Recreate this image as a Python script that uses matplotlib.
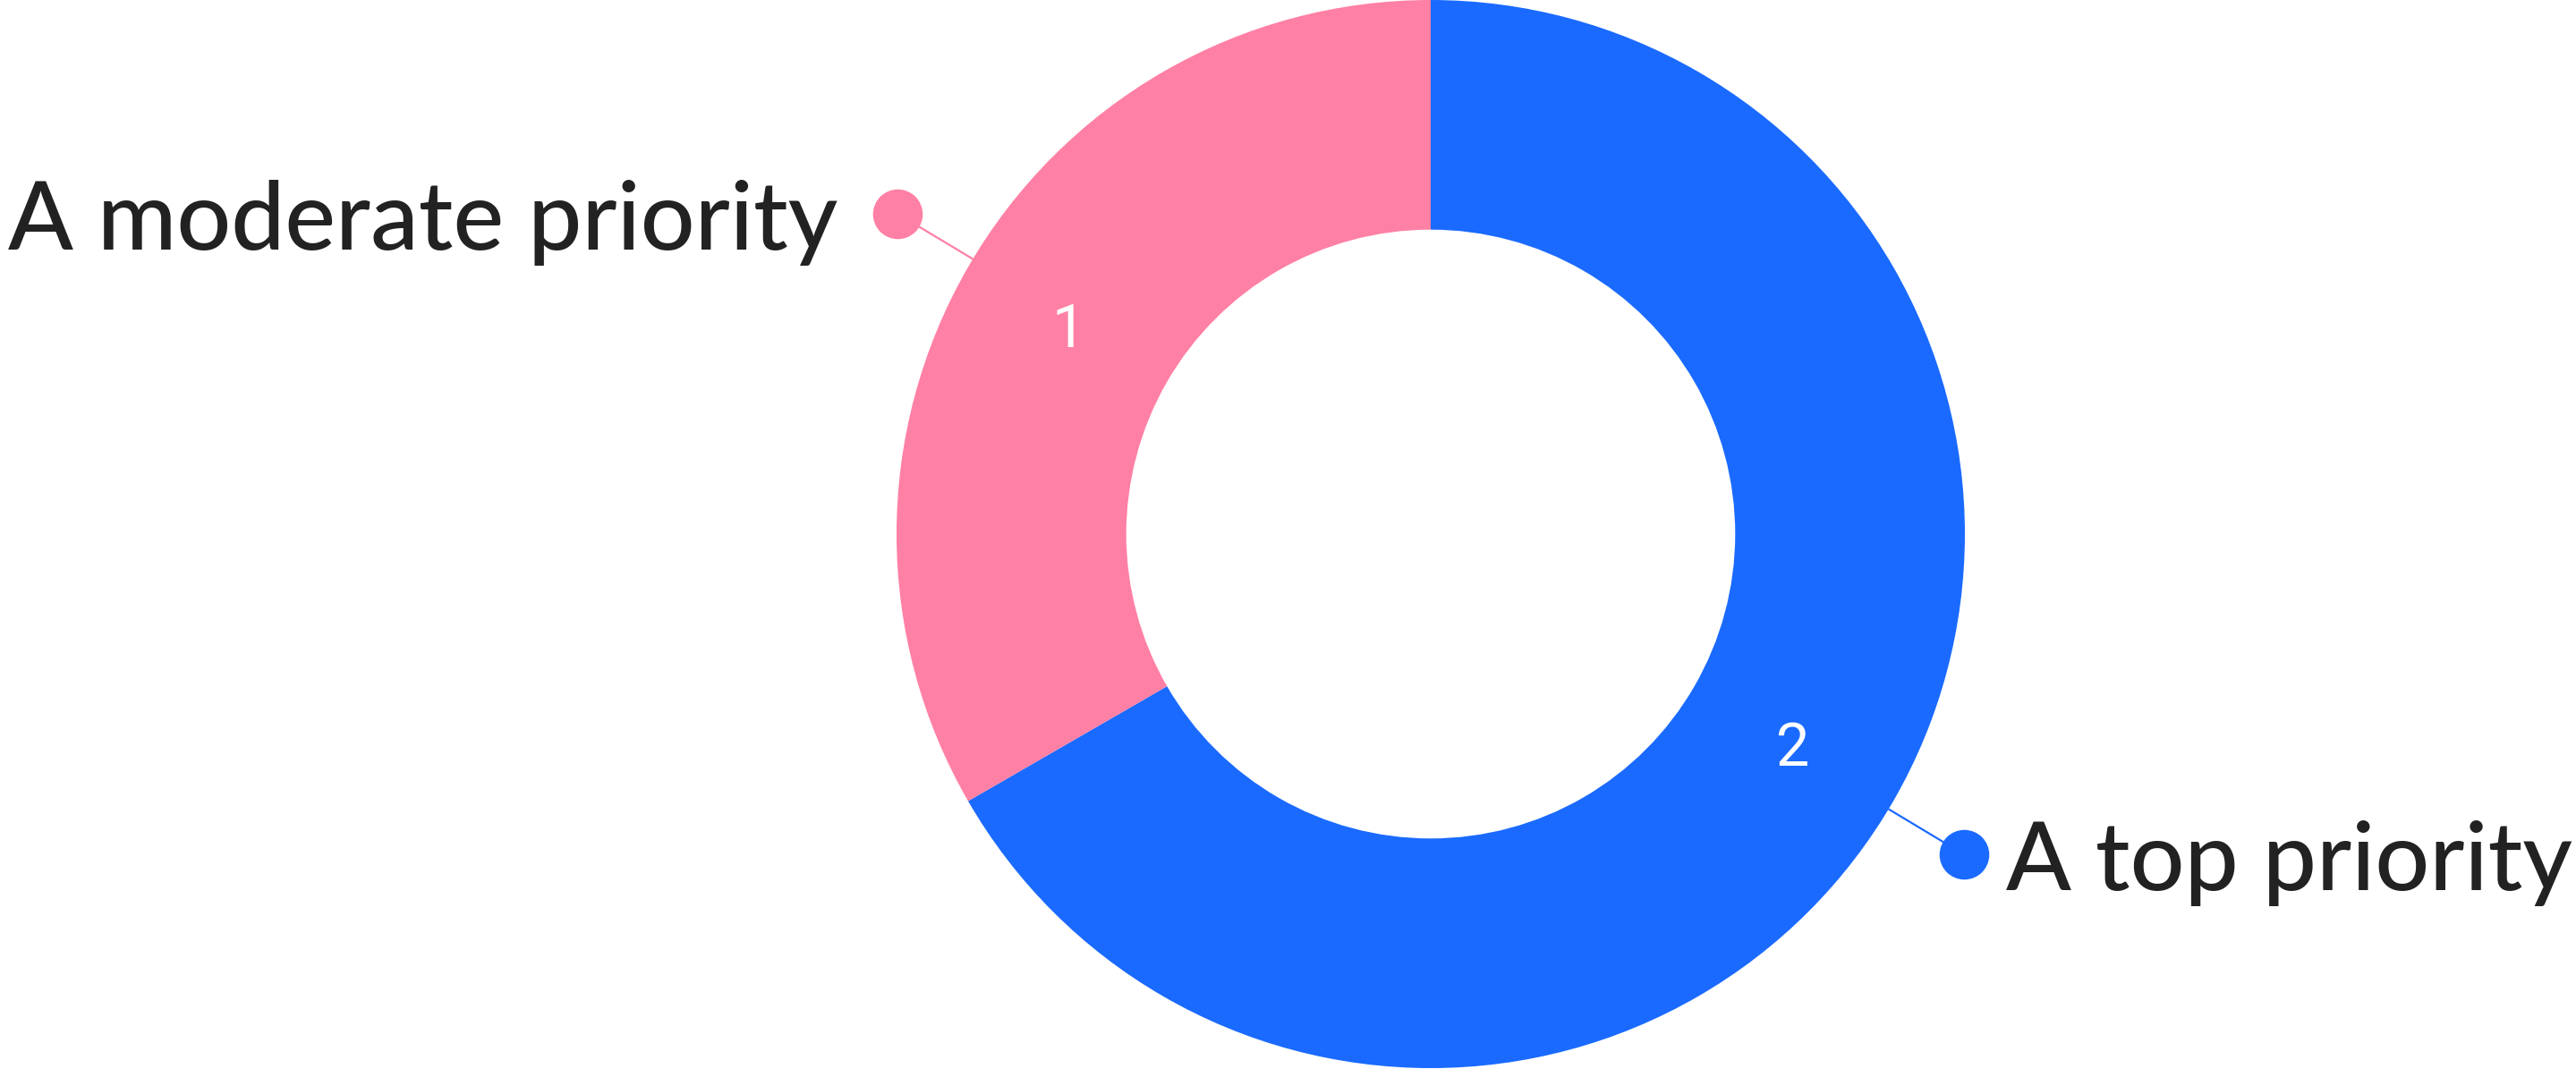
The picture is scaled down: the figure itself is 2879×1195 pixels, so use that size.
import numpy as np
import matplotlib
matplotlib.use("Agg")
import matplotlib.pyplot as plt

# ------------------------------------------------------------------
# Data
# ------------------------------------------------------------------
labels = ["A top priority", "A moderate priority"]
values = [2, 1]
colors = ["#1A6AFF", "#FF80A5"]

W, H, DPI = 2879, 1195, 100
CX, CY, R = 1599, 597, 597   # donut centre / radius in pixels

fig = plt.figure(figsize=(W / DPI, H / DPI), dpi=DPI)
ax = fig.add_axes([0, 0, 1, 1])

wedges, _ = ax.pie(values, colors=colors, startangle=90, counterclock=False,
                   radius=1.0, wedgeprops=dict(width=0.43, linewidth=0),
                   center=(0, 0), frame=True)
ax.set_xlim(-CX / R, (W - CX) / R)
ax.set_ylim(-(H - CY) / R, CY / R)
ax.set_aspect("equal")
ax.axis("off")

for w, lab, val, col in zip(wedges, labels, values, colors):
    mid = np.deg2rad((w.theta1 + w.theta2) / 2)
    c, s = np.cos(mid), np.sin(mid)
    # value inside the ring
    ax.text(0.783 * c, 0.783 * s, str(val), color="white", fontsize=48,
            family="Roboto", ha="center", va="center_baseline")
    # leader line + dot (label sits slightly clockwise of the mid angle)
    la = mid - np.deg2rad(1.0)
    lc, ls = np.cos(la), np.sin(la)
    rd = 1.165
    ax.plot([1.0 * lc, rd * lc], [1.0 * ls, rd * ls], color=col, lw=1.6,
            solid_capstyle="butt")
    ax.plot(rd * lc, rd * ls, "o", color=col, markersize=40, markeredgewidth=0)
    if lc < 0:
        ax.text(rd * lc - 0.112, rd * ls - 0.067, lab, ha="right", va="baseline",
                fontsize=77, family="Lato", fontweight="medium", color="#222222")
    else:
        ax.text(rd * lc + 0.078, rd * ls - 0.067, lab, ha="left", va="baseline",
                fontsize=77, family="Lato", fontweight="medium", color="#222222")

fig.savefig("out.png", dpi=DPI, facecolor="white")
